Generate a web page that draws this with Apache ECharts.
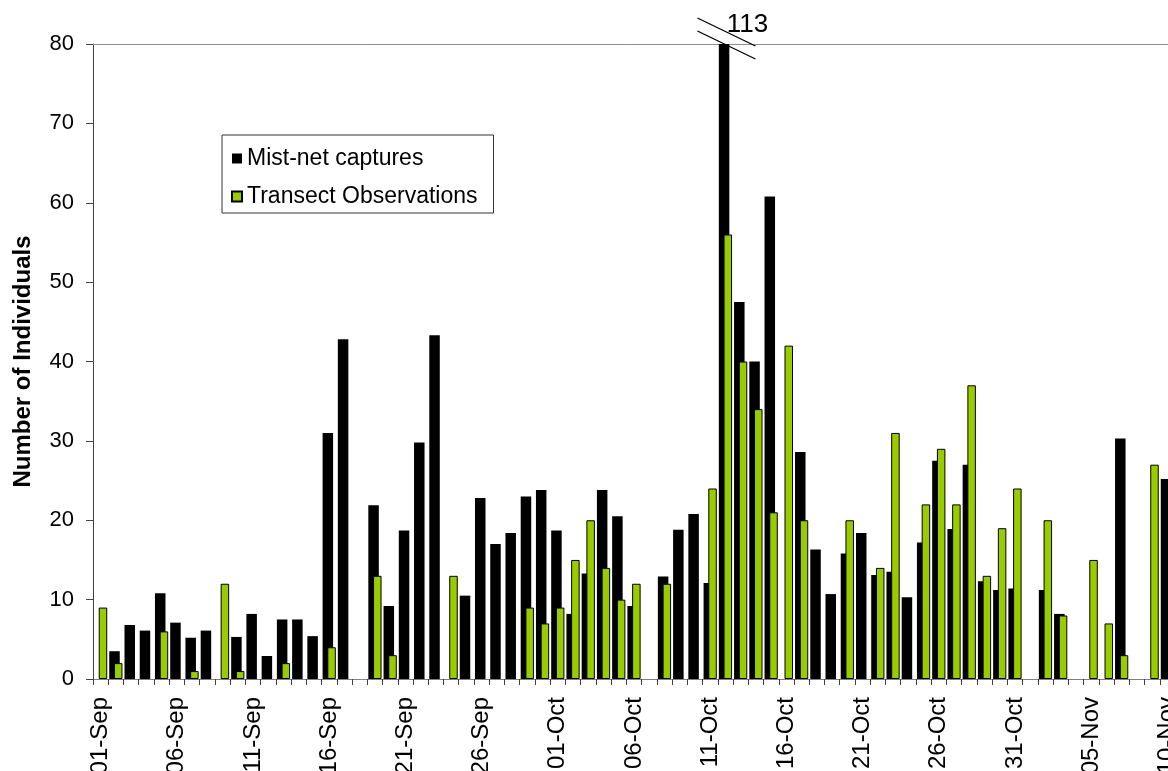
<!DOCTYPE html>
<html>
<head>
<meta charset="utf-8">
<script src="https://cdn.jsdelivr.net/npm/echarts@6/dist/echarts.min.js"></script>
<style>
html,body{margin:0;padding:0;background:#fff;overflow:hidden;}
#chart{width:1168px;height:771px;}
</style>
</head>
<body>
<div id="chart"></div>
<script>
const categories = [
 '01-Sep','02-Sep','03-Sep','04-Sep','05-Sep','06-Sep','07-Sep','08-Sep','09-Sep','10-Sep',
 '11-Sep','12-Sep','13-Sep','14-Sep','15-Sep','16-Sep','17-Sep','18-Sep','19-Sep','20-Sep',
 '21-Sep','22-Sep','23-Sep','24-Sep','25-Sep','26-Sep','27-Sep','28-Sep','29-Sep','30-Sep',
 '01-Oct','02-Oct','03-Oct','04-Oct','05-Oct','06-Oct','07-Oct','08-Oct','09-Oct','10-Oct',
 '11-Oct','12-Oct','13-Oct','14-Oct','15-Oct','16-Oct','17-Oct','18-Oct','19-Oct','20-Oct',
 '21-Oct','22-Oct','23-Oct','24-Oct','25-Oct','26-Oct','27-Oct','28-Oct','29-Oct','30-Oct',
 '31-Oct','01-Nov','02-Nov','03-Nov','04-Nov','05-Nov','06-Nov','07-Nov','08-Nov','09-Nov',
 '10-Nov'
];

const mistNet = [
 null, 3.5, 6.8, 6.1, 10.8, 7.1, 5.2, 6.1, null, 5.3,
 8.2, 2.9, 7.5, 7.5, 5.4, 31, 42.8, null, 21.9, 9.2,
 18.7, 29.8, 43.3, null, 10.5, 22.8, 17.0, 18.4, 23.0, 23.8,
 18.7, 8.2, 13.3, 23.8, 20.5, 9.2, null, 12.9, 18.8, 20.8,
 12.1, 113, 47.5, 40.0, 60.8, null, 28.6, 16.3, 10.7, 15.8,
 18.4, 13.1, 13.5, 10.3, 17.2, 27.5, 18.9, 27.0, 12.3, 11.2,
 11.4, null, 11.2, 8.2, null, null, null, 30.3, null, null,
 25.2
];

const transect = [
 9, 2, null, null, 6, null, 1, null, 12, 1,
 null, null, 2, null, null, 4, null, null, 13, 3,
 null, null, null, 13, null, null, null, null, 9, 7,
 9, 15, 20, 14, 10, 12, null, 12, null, null,
 24, 56, 40, 34, 21, 42, 20, null, null, 20,
 null, 14, 31, null, 22, 29, 22, 37, 13, 19,
 24, null, 20, 8, null, 15, 7, 3, null, 27,
 null
];

const yTicks = [0, 10, 20, 30, 40, 50, 60, 70, 80];
const seriesNames = ['Mist-net captures', 'Transect Observations'];
const yAxisTitle = 'Number of Individuals';

const FONT = 'Liberation Sans, Arial, sans-serif';
const yMax = yTicks[yTicks.length - 1];

const chart = echarts.init(document.getElementById('chart'), null, {renderer: 'canvas'});

const option = {
  animation: false,
  backgroundColor: '#ffffff',
  textStyle: {fontFamily: FONT, color: '#000'},
  grid: {left: 93, top: 44, bottom: 92, width: 1082, containLabel: false, outerBoundsMode: 'none'},
  legend: {
    orient: 'vertical',
    left: 222,
    top: 135,
    data: seriesNames,
    icon: 'rect',
    itemWidth: 10,
    itemHeight: 10,
    itemGap: 15,
    padding: [12, 16, 5, 9],
    borderColor: '#333',
    borderWidth: 1,
    backgroundColor: '#fff',
    textStyle: {fontFamily: FONT, fontSize: 23, color: '#000'}
  },
  xAxis: [
    {
      type: 'category',
      data: categories,
      position: 'bottom',
      boundaryGap: true,
      axisLine: {show: true, lineStyle: {color: '#808080', width: 1}},
      axisTick: {show: true, interval: 0, alignWithLabel: false, length: 6, lineStyle: {color: '#404040'}},
      axisLabel: {
        interval: 4,
        rotate: 90,
        margin: 18,
        fontFamily: FONT,
        fontSize: 24,
        color: '#000'
      },
      splitLine: {show: false}
    },
    {
      type: 'category',
      data: categories,
      position: 'top',
      boundaryGap: true,
      axisLine: {show: true, lineStyle: {color: '#909090', width: 1}},
      axisTick: {show: false},
      axisLabel: {show: false},
      splitLine: {show: false}
    }
  ],
  yAxis: {
    type: 'value',
    min: yTicks[0],
    max: yMax,
    interval: yTicks[1] - yTicks[0],
    name: yAxisTitle,
    nameLocation: 'middle',
    nameGap: 58,
    nameTextStyle: {fontFamily: FONT, fontSize: 24, fontWeight: 'bold', color: '#000'},
    axisLine: {show: true, lineStyle: {color: '#404040', width: 1}},
    axisTick: {show: true, inside: false, length: 7, lineStyle: {color: '#404040'}},
    axisLabel: {fontFamily: FONT, fontSize: 22, color: '#000', margin: 19},
    splitLine: {show: false}
  },
  series: [
    {
      name: seriesNames[0],
      type: 'bar',
      xAxisIndex: 0,
      data: mistNet,
      barWidth: 10.5,
      barGap: '-55%',
      clip: true,
      itemStyle: {color: '#000000', borderColor: '#000000', borderWidth: 0}
    },
    {
      name: seriesNames[1],
      type: 'bar',
      xAxisIndex: 0,
      data: transect,
      barWidth: 8.5,
      barGap: '-55%',
      clip: true,
      itemStyle: {color: '#99CC00', borderColor: '#000000', borderWidth: 1}
    }
  ]
};

chart.setOption(option);

// axis-break marker for the value that exceeds the axis maximum
const graphics = [];
mistNet.forEach(function (v, i) {
  if (v != null && v > yMax) {
    const p = chart.convertToPixel({xAxisIndex: 0, yAxisIndex: 0}, [i, yMax]);
    graphics.push(
      {type: 'line', z: 100, shape: {x1: p[0] - 28, y1: p[1] - 26, x2: p[0] + 30, y2: p[1] + 2},
       style: {stroke: '#000', lineWidth: 1.3}},
      {type: 'line', z: 100, shape: {x1: p[0] - 28, y1: p[1] - 13, x2: p[0] + 30, y2: p[1] + 15},
       style: {stroke: '#000', lineWidth: 1.3}},
      {type: 'text', z: 101, x: p[0] + 22, y: p[1] - 19,
       style: {text: String(v), font: '26px ' + FONT, fill: '#000', textAlign: 'center', textVerticalAlign: 'middle'}}
    );
  }
});
chart.setOption({graphic: graphics});
</script>
</body>
</html>
